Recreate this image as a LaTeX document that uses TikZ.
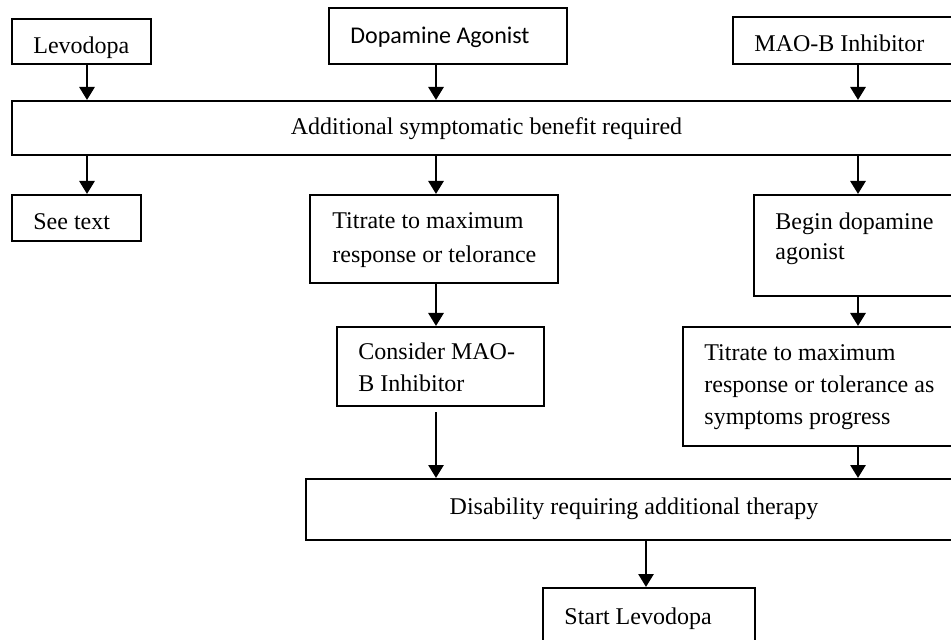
\documentclass[tikz,border=0pt]{standalone}
\usepackage{fontspec}
\setmainfont{Liberation Serif}
\newfontfamily\calib{Carlito}
\usetikzlibrary{arrows.meta}
\tikzset{
  box/.style={draw, line width=1pt, inner sep=0pt, rectangle},
  txt/.style={inner sep=0pt, anchor=base west, align=left, font=\fontsize{12pt}{16pt}\selectfont},
  arr/.style={line width=1.4pt, -{Triangle[width=7.5pt,length=6.5pt]}}
}
\begin{document}
\begin{tikzpicture}[x=0.5pt,y=-0.5pt]
\useasboundingbox (0,0) rectangle (951,640);
\clip (0,0) rectangle (951,640);
% boxes
\node[box, minimum width=69.5pt, minimum height=22.5pt] (lev) at (81.5,41.5) {};
\node[box, minimum width=119pt, minimum height=28pt] (dop) at (448,36) {};
\node[box, minimum width=116pt, minimum height=23.5pt] (mao) at (849,40.5) {};
\node[box, minimum width=476.5pt, minimum height=27pt] (add) at (488.5,128) {};
\node[box, minimum width=64.5pt, minimum height=23pt] (see) at (76.5,218) {};
\node[box, minimum width=124pt, minimum height=44pt] (tit) at (434,239) {};
\node[box, minimum width=105.5pt, minimum height=50.5pt] (beg) at (859.5,245.5) {};
\node[box, minimum width=103.5pt, minimum height=39.5pt] (con) at (440.5,366.5) {};
\node[box, minimum width=141pt, minimum height=59.5pt] (tit2) at (824,386.5) {};
\node[box, minimum width=329.5pt, minimum height=30.5pt] (dis) at (635.5,509.5) {};
\node[box, minimum width=106pt, minimum height=36pt] (sta) at (649,624) {};
% texts (base = baseline of the last line)
\node[txt] (tlev) at (33,54) {Levodopa};
\node[txt, font=\calib\fontsize{12pt}{16pt}\selectfont] (tdop) at (350,44) {Dopamine Agonist};
\node[txt] (tmao) at (754,52) {MAO-B Inhibitor};
\node[txt, anchor=base] (tadd) at (486.5,135) {Additional symptomatic benefit required};
\node[txt] (tsee) at (33,230) {See text};
\node[txt, font=\fontsize{12pt}{17pt}\selectfont] (ttit) at (332,263) {Titrate to maximum\\response or telorance};
\node[txt, font=\fontsize{12pt}{15pt}\selectfont] (tbeg) at (775,260) {Begin dopamine\\agonist};
\node[txt] (tcon) at (358,392) {Consider MAO-\\B Inhibitor};
\node[txt] (ttit2) at (704,424) {Titrate to maximum\\response or tolerance as\\symptoms progress};
\node[txt, anchor=base] (tdis) at (634,514) {Disability requiring additional therapy};
\node[txt] (tsta) at (564,624) {Start Levodopa};
% columns
\coordinate (c1) at (87,0);
\coordinate (c2) at (436,0);
\coordinate (c3) at (858,0);
\coordinate (c4) at (646,0);
% connectors
\draw[arr] (lev.south -| c1) -- (add.north -| c1);
\draw[arr] (dop.south -| c2) -- (add.north -| c2);
\draw[arr] (mao.south -| c3) -- (add.north -| c3);
\draw[arr] (add.south -| c1) -- (see.north -| c1);
\draw[arr] (add.south -| c2) -- (tit.north -| c2);
\draw[arr] (add.south -| c3) -- (beg.north -| c3);
\draw[arr] (tit.south -| c2) -- (con.north -| c2);
\draw[arr] (beg.south -| c3) -- (tit2.north -| c3);
\draw[arr, shorten <=2.5pt] (con.south -| c2) -- (dis.north -| c2);
\draw[arr] (tit2.south -| c3) -- (dis.north -| c3);
\draw[arr] (dis.south -| c4) -- (sta.north -| c4);
\end{tikzpicture}
\end{document}
